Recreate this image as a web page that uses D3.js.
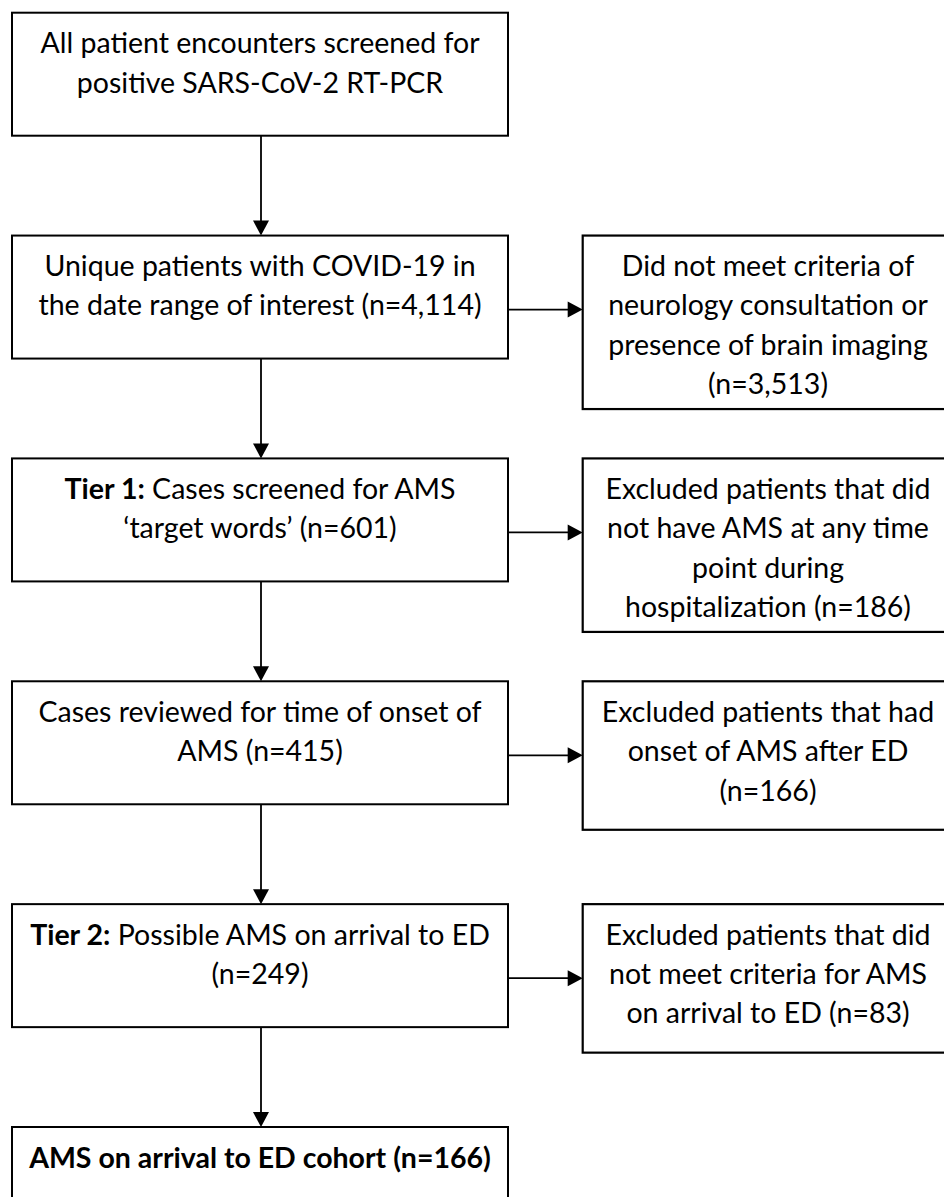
<!DOCTYPE html>
<html>
<head>
<meta charset="utf-8">
<script src="https://cdn.jsdelivr.net/npm/d3@7"></script>
<style>
  html, body { margin: 0; padding: 0; background: #fff; }
  svg { display: block; }
</style>
</head>
<body>
<svg id="chart" width="944" height="1197"></svg>
<script>
// ---- data ----
const stepLabels = [
  ["All patient encounters screened for", "positive SARS-CoV-2 RT-PCR"],
  ["Unique patients with COVID-19 in", "the date range of interest (n={n})"],
  ["**Tier 1:** Cases screened for AMS", "\u2018target words\u2019 (n={n})"],
  ["Cases reviewed for time of onset of", "AMS (n={n})"],
  ["**Tier 2:** Possible AMS on arrival to ED", "(n={n})"],
  ["**AMS on arrival to ED cohort (n={n})**"]
];
const stepCounts = [null, 4114, 601, 415, 249, 166];

const exclusionFrom = [1, 2, 3, 4];
const exclusionLabels = [
  ["Did not meet criteria of", "neurology consultation or", "presence of brain imaging", "(n={n})"],
  ["Excluded patients that did", "not have AMS at any time", "point during", "hospitalization (n={n})"],
  ["Excluded patients that had", "onset of AMS after ED", "(n={n})"],
  ["Excluded patients that did", "not meet criteria for AMS", "on arrival to ED (n={n})"]
];
const exclusionCounts = [3513, 186, 166, 83];

// ---- layout ----
const W = 944, H = 1197;
const fmt = d3.format(",");
const svg = d3.select("#chart");
const FONT = "Lato, 'Carlito', Calibri, sans-serif";
const FS = 28.5, LINE = 39.4, FIRST = 40.5;

const y = d3.scaleLinear().domain([0, stepLabels.length - 1]).range([12.7, 1127]);
const xMain = d3.scaleLinear().domain([0, 1]).range([12, 508]);
const xExcl = d3.scaleLinear().domain([0, 1]).range([582.7, 954]);
const mainH = 123;
const exclH = n => (n >= 4 ? 173.5 : 148.5);
const armOffset = 74;

function fill(t, n) { return t.replace("{n}", n == null ? "" : fmt(n)); }

function writeLines(g, lines, cx, top) {
  lines.forEach((ln, i) => {
    const t = g.append("text")
      .attr("x", cx)
      .attr("y", top + FIRST + i * LINE)
      .attr("text-anchor", "middle")
      .attr("font-family", FONT)
      .attr("font-size", FS)
      .attr("fill", "#000");
    const parts = ln.split("**");
    parts.forEach((p, k) => {
      if (!p) return;
      t.append("tspan").attr("font-weight", k % 2 === 1 ? "bold" : "normal").text(p);
    });
  });
}

const gMain = svg.append("g");
stepLabels.forEach((lines, i) => {
  const top = y(i);
  const h = i === stepLabels.length - 1 ? 200 : mainH;
  gMain.append("rect")
    .attr("x", xMain(0)).attr("y", top)
    .attr("width", xMain(1) - xMain(0)).attr("height", h)
    .attr("fill", "#fff").attr("stroke", "#000").attr("stroke-width", 2);
  writeLines(gMain, lines.map(l => fill(l, stepCounts[i])), (xMain(0) + xMain(1)) / 2, top);
});

// vertical arrows
const ax = 261, AL = 15, AW = 8;
d3.range(stepLabels.length - 1).forEach(i => {
  const y0 = y(i) + mainH, y1 = y(i + 1);
  svg.append("line").attr("x1", ax).attr("x2", ax).attr("y1", y0).attr("y2", y1 - AL + 1)
    .attr("stroke", "#000").attr("stroke-width", 1.8);
  svg.append("path").attr("d", `M${ax - AW},${y1 - AL}L${ax + AW},${y1 - AL}L${ax},${y1}Z`).attr("fill", "#000");
});

// exclusion boxes + horizontal arrows
exclusionFrom.forEach((s, j) => {
  const top = y(s);
  const lines = exclusionLabels[j].map(l => fill(l, exclusionCounts[j]));
  svg.append("rect")
    .attr("x", xExcl(0)).attr("y", top)
    .attr("width", xExcl(1) - xExcl(0)).attr("height", exclH(lines.length))
    .attr("fill", "#fff").attr("stroke", "#000").attr("stroke-width", 2.2);
  writeLines(svg, lines, 768, top);
  const ay = top + armOffset, x0 = xMain(1), x1 = xExcl(0);
  svg.append("line").attr("x1", x0).attr("x2", x1 - AL + 1).attr("y1", ay).attr("y2", ay)
    .attr("stroke", "#000").attr("stroke-width", 1.8);
  svg.append("path").attr("d", `M${x1 - AL},${ay - AW}L${x1 - AL},${ay + AW}L${x1},${ay}Z`).attr("fill", "#000");
});
</script>
</body>
</html>
